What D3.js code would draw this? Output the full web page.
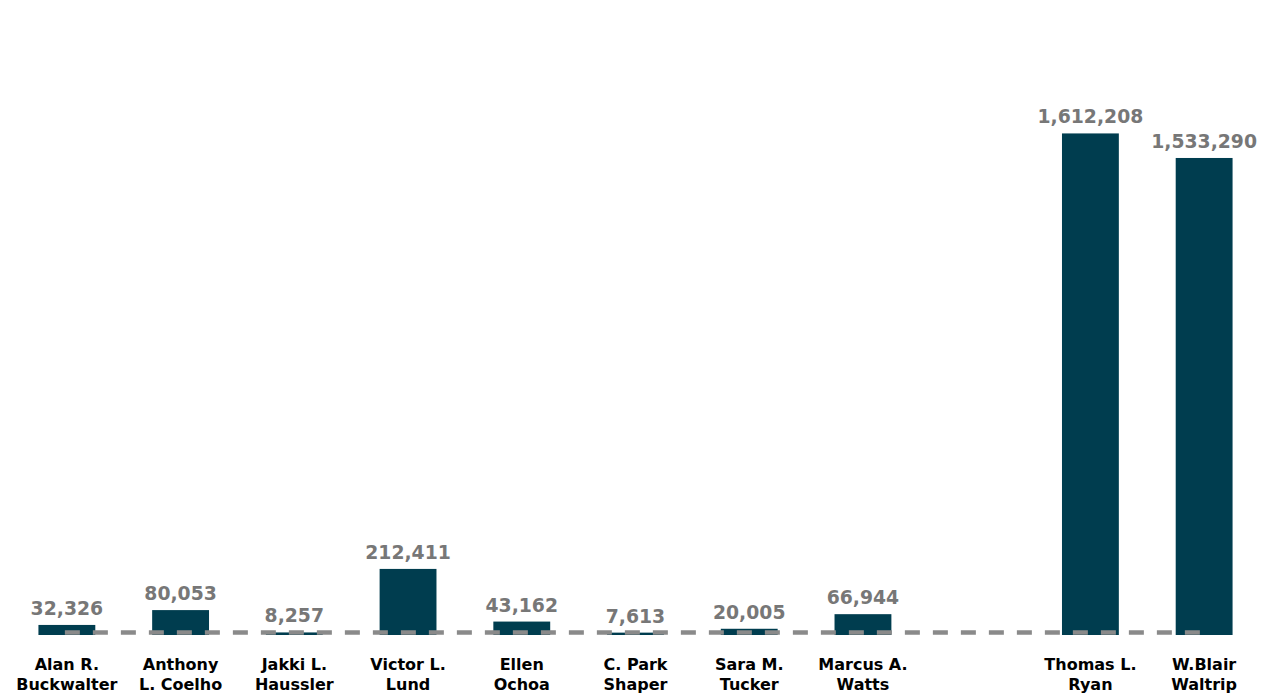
<!DOCTYPE html>
<html><head><meta charset="utf-8">
<script src="https://cdn.jsdelivr.net/npm/d3@7"></script>
<style>body{margin:0;background:#fff}svg{display:block}</style>
</head><body>
<svg id="c" width="1270" height="700"></svg>
<script>
const categories = [
  ["Alan R.","Buckwalter"],["Anthony","L. Coelho"],["Jakki L.","Haussler"],["Victor L.","Lund"],
  ["Ellen","Ochoa"],["C. Park","Shaper"],["Sara M.","Tucker"],["Marcus A.","Watts"],
  ["",""],["Thomas L.","Ryan"],["W.Blair","Waltrip"]
];
const values = [32326,80053,8257,212411,43162,7613,20005,66944,null,1612208,1533290];

const svg = d3.select("#c");
const x = d3.scaleBand().domain(d3.range(categories.length)).range([10,1261]).paddingInner(0.5).paddingOuter(0.25);
const y = d3.scaleLinear().domain([0,1800000]).range([635,75]);
const data = values.map((v,i)=>({v,i})).filter(d=>d.v!==null);

svg.selectAll("rect.bar").data(data).join("rect")
  .attr("x",d=>x(d.i)).attr("width",x.bandwidth())
  .attr("y",d=>y(d.v)).attr("height",d=>y(0)-y(d.v))
  .attr("fill","#003d4f");

svg.append("line")
  .attr("x1",x(0)+x.bandwidth()/2-2).attr("x2",x(categories.length-1)+x.bandwidth()/2)
  .attr("y1",632.5).attr("y2",632.5)
  .attr("stroke","#8a8a8a").attr("stroke-width",4.5).attr("stroke-dasharray","15,13");

svg.selectAll("text.val").data(data).join("text")
  .attr("x",d=>x(d.i)+x.bandwidth()/2).attr("y",d=>y(d.v)-10)
  .attr("text-anchor","middle").attr("font-family","DejaVu Sans, Verdana, sans-serif")
  .attr("font-weight","bold").attr("font-size",18.8).attr("fill","#777777")
  .text(d=>d3.format(",")(d.v));

const lab = svg.selectAll("text.cat").data(categories).join("text")
  .attr("text-anchor","middle").attr("font-family","DejaVu Sans, Verdana, sans-serif")
  .attr("font-weight","bold").attr("font-size",16).attr("fill","#000");
lab.each(function(d,i){
  const t=d3.select(this), cx=x(i)+x.bandwidth()/2;
  t.append("tspan").attr("x",cx).attr("y",670).text(d[0]);
  t.append("tspan").attr("x",cx).attr("y",690).text(d[1]);
});
</script>
</body></html>
